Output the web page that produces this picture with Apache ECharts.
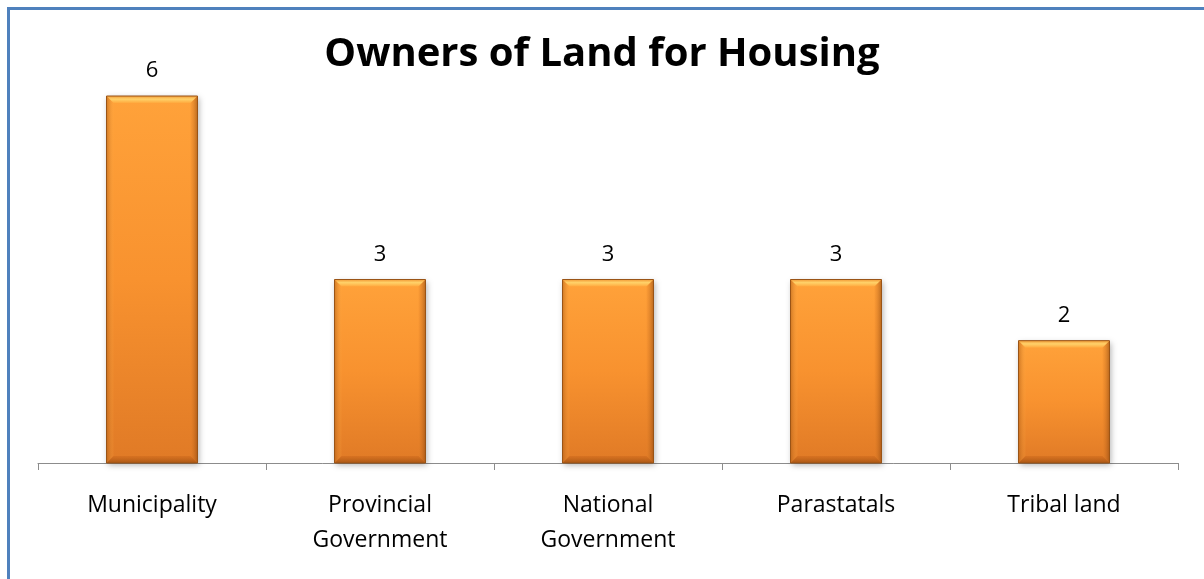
<!DOCTYPE html>
<html>
<head>
<meta charset="utf-8">
<script src="https://cdn.jsdelivr.net/npm/echarts@6/dist/echarts.min.js"></script>
<style>
  html, body { margin: 0; padding: 0; background: #fff; }
  #chart { width: 1204px; height: 579px; }
</style>
</head>
<body>
<div id="chart"></div>
<script>
// Land ownership counts by owner type
const categories = ['Municipality', 'Provincial\nGovernment', 'National\nGovernment', 'Parastatals', 'Tribal land'];
const counts = [6, 3, 3, 3, 2];
const chartTitle = 'Owners of Land for Housing';

const FONT = '"Open Sans", "Noto Sans", sans-serif';
const BAR_WIDTH = 91;
const BEVEL = 7;

function vGrad(stops) {
  return { type: 'linear', x: 0, y: 0, x2: 0, y2: 1, colorStops: stops };
}
function hGrad(stops) {
  return { type: 'linear', x: 0, y: 0, x2: 1, y2: 0, colorStops: stops };
}

// Bevelled edges drawn over each bar, positioned through the axes
function renderBevel(params, api) {
  const topPt = api.coord([api.value(0), api.value(1)]);
  const basePt = api.coord([api.value(0), 0]);
  const x0 = topPt[0] - BAR_WIDTH / 2;
  const x1 = topPt[0] + BAR_WIDTH / 2;
  const y0 = topPt[1];
  const y1 = basePt[1];
  const b = BEVEL;
  return {
    type: 'group',
    children: [
      {
        type: 'polygon',
        shape: { points: [[x0, y0], [x1, y0], [x1 - b, y0 + b], [x0 + b, y0 + b]] },
        style: { fill: vGrad([
          { offset: 0, color: '#F29A36' },
          { offset: 0.45, color: '#FFD26A' },
          { offset: 1, color: '#FFA93E' }
        ]) }
      },
      {
        type: 'polygon',
        shape: { points: [[x0, y0], [x0 + b, y0 + b], [x0 + b, y1 - b], [x0, y1]] },
        style: { fill: hGrad([
          { offset: 0, color: 'rgba(170,90,20,0.55)' },
          { offset: 1, color: 'rgba(255,170,70,0.15)' }
        ]) }
      },
      {
        type: 'polygon',
        shape: { points: [[x1, y0], [x1 - b, y0 + b], [x1 - b, y1 - b], [x1, y1]] },
        style: { fill: hGrad([
          { offset: 0, color: 'rgba(230,130,40,0.2)' },
          { offset: 1, color: 'rgba(140,70,15,0.6)' }
        ]) }
      },
      {
        type: 'polygon',
        shape: { points: [[x0, y1], [x0 + b, y1 - b], [x1 - b, y1 - b], [x1, y1]] },
        style: { fill: vGrad([
          { offset: 0, color: 'rgba(200,100,25,0.4)' },
          { offset: 1, color: 'rgba(150,75,15,0.75)' }
        ]) }
      },
      {
        type: 'rect',
        shape: { x: x0, y: y0, width: BAR_WIDTH, height: y1 - y0 },
        style: { fill: 'none', stroke: '#9A5416', lineWidth: 1 }
      }
    ]
  };
}

const chart = echarts.init(document.getElementById('chart'), null, { renderer: 'canvas' });

chart.setOption({
  backgroundColor: '#ffffff',
  animation: false,
  title: {
    text: chartTitle,
    left: 'center',
    top: 30,
    textStyle: { fontFamily: FONT, fontWeight: 'bold', fontSize: 40, color: '#000' }
  },
  graphic: [{
    type: 'rect',
    shape: { x: 8.5, y: 8.5, width: 1400, height: 800 },
    style: { fill: 'none', stroke: '#4F81BD', lineWidth: 3 },
    silent: true,
    z: 100
  }],
  grid: { left: 38, right: 26, top: 96, bottom: 116 },
  xAxis: {
    type: 'category',
    data: categories,
    axisLine: { lineStyle: { color: '#8c8c8c', width: 1 } },
    axisTick: { show: true, length: 7, lineStyle: { color: '#8c8c8c' } },
    axisLabel: {
      margin: 25,
      fontFamily: FONT,
      fontSize: 23,
      lineHeight: 35,
      color: '#000',
      interval: 0
    }
  },
  yAxis: {
    type: 'value',
    min: 0,
    max: 6,
    show: false
  },
  series: [
    {
      type: 'bar',
      data: counts,
      barWidth: BAR_WIDTH,
      itemStyle: {
        color: vGrad([
          { offset: 0, color: '#FFA23A' },
          { offset: 0.5, color: '#F8922F' },
          { offset: 1, color: '#E07A26' }
        ]),
        shadowColor: 'rgba(0,0,0,0.3)',
        shadowBlur: 6,
        shadowOffsetX: 1,
        shadowOffsetY: 2
      },
      label: {
        show: true,
        position: 'top',
        distance: 14,
        fontFamily: FONT,
        fontSize: 22,
        color: '#000'
      }
    },
    {
      type: 'custom',
      silent: true,
      z: 3,
      renderItem: renderBevel,
      data: counts.map((v, i) => [i, v])
    }
  ]
});
</script>
</body>
</html>
